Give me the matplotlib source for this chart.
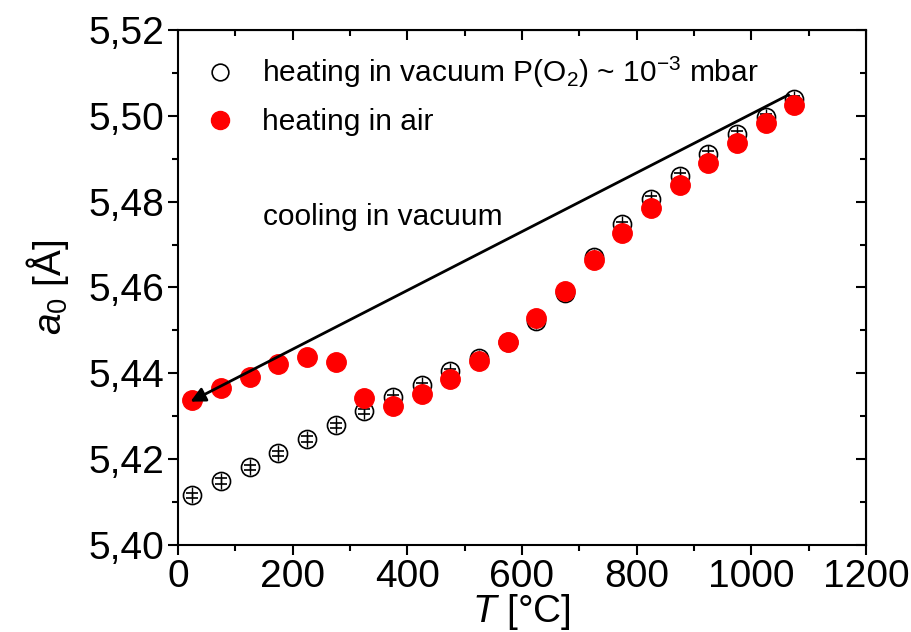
import matplotlib
matplotlib.use("Agg")
import matplotlib.pyplot as plt
import matplotlib.ticker as ticker
from matplotlib.lines import Line2D

plt.rcParams['font.family'] = ['Liberation Sans', 'DejaVu Sans']
plt.rcParams['mathtext.fontset'] = 'custom'
plt.rcParams['mathtext.rm'] = 'Liberation Sans'
plt.rcParams['mathtext.it'] = 'Liberation Sans:italic'

temps = [25, 75, 125, 175, 225, 275, 325, 375, 425, 475, 525,
         575, 625, 675, 725, 775, 825, 875, 925, 975, 1025, 1075]
a_vacuum = [5.4116, 5.4149, 5.4181, 5.4214, 5.4247, 5.4279, 5.4312, 5.4344,
            5.4372, 5.4405, 5.4435, 5.4474, 5.4523, 5.4588, 5.4670, 5.4747,
            5.4807, 5.4860, 5.4912, 5.4958, 5.4998, 5.5040]
a_vacuum_err = 0.0006
a_air = [5.4337, 5.4365, 5.4391, 5.4421, 5.4437, 5.4426, 5.4342, 5.4323,
         5.4351, 5.4386, 5.4428, 5.4472, 5.4530, 5.4593, 5.4663, 5.4728,
         5.4786, 5.4840, 5.4891, 5.4937, 5.4984, 5.5026]
cool_start = (1065, 5.5049)
cool_end = (22, 5.4334)

fig = plt.figure(figsize=(9.12, 6.32), dpi=100)
ax = fig.add_axes([0.195, 0.1377, 0.7546, 0.8148])

# open circles with small error bars (vertical bar runs across the marker)
ax.errorbar(temps, a_vacuum, yerr=0.0019, fmt='none', ecolor='black',
            elinewidth=1.0, capsize=0, zorder=2)
ax.errorbar(temps, a_vacuum, yerr=a_vacuum_err, fmt='o', mfc='none', mec='black',
            mew=1.2, ms=13, ecolor='black', elinewidth=1.0, capsize=4, capthick=1.0,
            zorder=2)
ax.plot(temps, a_air, 'o', color='red', ms=14, zorder=3)

ax.annotate('', xy=cool_end, xytext=cool_start,
            arrowprops=dict(arrowstyle='-|>', color='black', lw=2,
                            mutation_scale=22, shrinkA=0, shrinkB=0), zorder=4)
ax.text(148, 5.4765, 'cooling in vacuum', fontsize=21.5, ha='left', va='center')

ax.set_xlim(0, 1200)
ax.set_ylim(5.40, 5.52)
ax.xaxis.set_major_locator(ticker.MultipleLocator(200))
ax.xaxis.set_minor_locator(ticker.MultipleLocator(100))
ax.yaxis.set_major_locator(ticker.MultipleLocator(0.02))
ax.yaxis.set_minor_locator(ticker.MultipleLocator(0.01))
ax.yaxis.set_major_formatter(ticker.FuncFormatter(lambda v, p: ('%.2f' % v).replace('.', ',')))
ax.tick_params(which='both', direction='out', labelsize=28, width=1.5, pad=3)
ax.tick_params(which='major', length=7)
ax.tick_params(which='minor', length=4)
for s in ax.spines.values():
    s.set_linewidth(1.5)

# inward ticks on the opposite axes
rax = ax.secondary_yaxis('right')
rax.yaxis.set_major_locator(ticker.MultipleLocator(0.02))
rax.yaxis.set_minor_locator(ticker.MultipleLocator(0.01))
rax.tick_params(which='both', direction='in', labelright=False, width=1.5)
rax.tick_params(which='major', length=7)
rax.tick_params(which='minor', length=4)
tax = ax.secondary_xaxis('top')
tax.xaxis.set_major_locator(ticker.MultipleLocator(200))
tax.xaxis.set_minor_locator(ticker.MultipleLocator(100))
tax.tick_params(which='both', direction='in', labeltop=False, width=1.5)
tax.tick_params(which='major', length=7)
tax.tick_params(which='minor', length=4)

ax.set_xlabel('$T$ [°C]', fontsize=28, labelpad=-2)
ax.set_ylabel('$a_0$ [Å]', fontsize=28, labelpad=12)

handles = [Line2D([], [], ls='none', marker='o', mfc='none', mec='black', mew=1.2, ms=12),
           Line2D([], [], ls='none', marker='o', color='red', ms=13)]
labels = ['heating in vacuum P(O$_2$) ~ 10$^{-3}$ mbar', 'heating in air']
ax.legend(handles, labels, loc='upper left', frameon=False, fontsize=21.5,
          handletextpad=0.9, borderaxespad=0, bbox_to_anchor=(0.022, 0.975),
          labelspacing=0.6, handlelength=1.0)

fig.savefig('out.png', dpi=100)
